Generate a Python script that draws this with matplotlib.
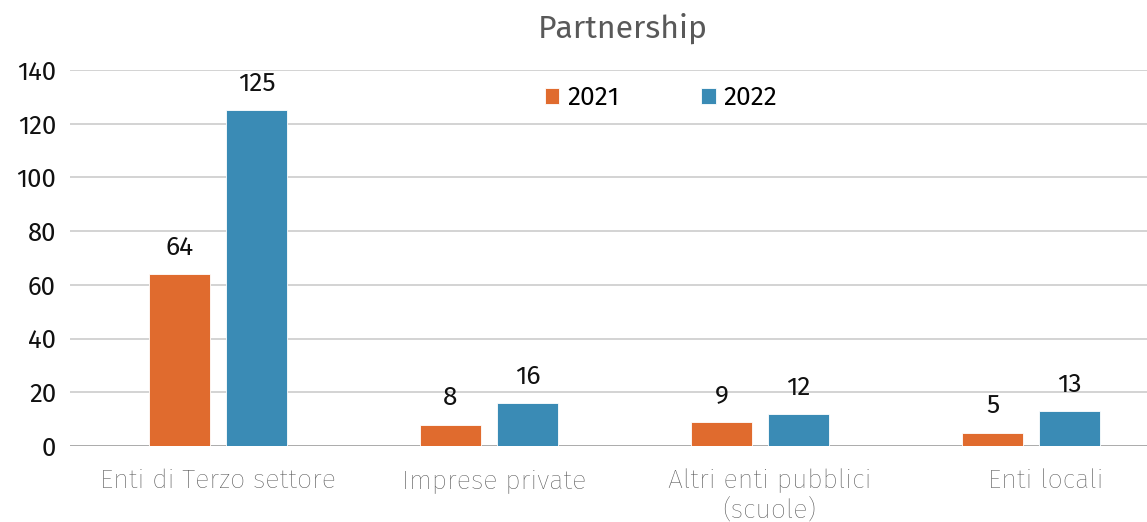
import matplotlib
matplotlib.use("Agg")
import matplotlib.pyplot as plt
import numpy as np

categories = ["Enti di Terzo settore", "Imprese private",
              "Altri enti pubblici\n(scuole)", "Enti locali"]
series_names = ["2021", "2022"]
values_2021 = [64, 8, 9, 5]
values_2022 = [125, 16, 12, 13]
yticks = [0, 20, 40, 60, 80, 100, 120, 140]

plt.rcParams["font.family"] = ["Fira Sans", "Roboto", "DejaVu Sans"]

orange = "#E06B2E"
blue = "#3A8BB5"

fig = plt.figure(figsize=(11.47, 5.22), dpi=100)
ax = fig.add_axes([70 / 1147, 1 - 446 / 522, 1 - 70 / 1147, (446 - 70) / 522])

x = np.arange(len(categories))
w = 0.225
off = 0.142
b1 = ax.bar(x - off, values_2021, w, color=orange, label=series_names[0],
            edgecolor="white", linewidth=0.6, zorder=3)
b2 = ax.bar(x + off, values_2022, w, color=blue, label=series_names[1],
            edgecolor="white", linewidth=0.6, zorder=3)

for bars, vals in ((b1, values_2021), (b2, values_2022)):
    for r, v in zip(bars, vals):
        ax.annotate(str(v), (r.get_x() + r.get_width() / 2, v),
                    xytext=(0, 10), textcoords="offset points",
                    ha="center", va="bottom", fontsize=19, color="#111111")

ax.set_ylim(0, 140)
ax.set_xlim(-0.546, 3.428)
ax.set_yticks(yticks)
ax.set_yticklabels([str(t) for t in yticks], fontsize=18.5, color="#111111")
ax.set_xticks(x)
ax.set_xticklabels([])
# category names under each group, drifting slightly right across the axis
for i, name in enumerate(categories):
    ax.annotate(name, (x[i], 0), xytext=(3.5 * i, -16),
                textcoords="offset points", ha="center", va="top",
                fontsize=19.3, color="#555555", fontweight="light",
                linespacing=1.25, annotation_clip=False)
ax.tick_params(axis="y", length=0, pad=10)
ax.tick_params(axis="x", length=0)
ax.grid(axis="y", color="#C8C8C8", linewidth=1.1, zorder=0)
for s in ax.spines.values():
    s.set_visible(False)
ax.axhline(0, color="#A6A6A6", linewidth=1.2, zorder=2)

ax.legend(ncol=2, loc="center", bbox_to_anchor=(591 / 1077, (446 - 98) / 376),
          frameon=False, fontsize=19, handlelength=0.55, handleheight=0.55,
          handletextpad=0.3, columnspacing=3.1)

fig.text(623 / 1147, 1 - 28 / 522, "Partnership", ha="center", va="center",
         fontsize=23, color="#595959")

fig.savefig("out.png", dpi=100)
